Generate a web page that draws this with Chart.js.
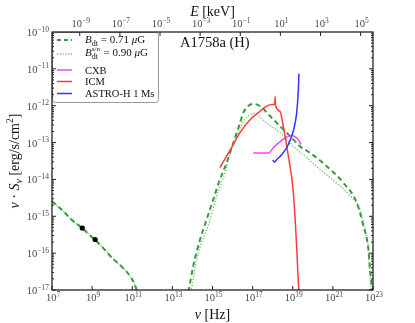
<!DOCTYPE html>
<html>
<head>
<meta charset="utf-8">
<script src="https://cdn.jsdelivr.net/npm/chart.js@4.4.1/dist/chart.umd.min.js"></script>
<style>
  html, body { margin: 0; padding: 0; background: #fff; }
</style>
</head>
<body>
<canvas id="c" width="415" height="323"></canvas>
<script>
// Valeurs, en log10 (nu en Hz, nu*S_nu en erg/s/cm2)
const radioLogNu = [7, 7.5, 8, 8.5, 9, 9.5, 10, 10.5, 10.9, 11.1, 11.25];
const radioLogS  = [-14.59, -14.83, -15.10, -15.32, -15.57, -15.83, -16.13, -16.38, -16.63, -16.82, -17.05];

const icDashLogNu = [13.8, 14.04, 14.38, 14.71, 15.04, 15.37, 15.71, 16.04, 16.37, 16.54, 16.75, 17.03, 17.37, 17.87, 18.37, 18.86, 19.36, 19.86, 20.69, 21.52, 22.19, 22.52, 22.77, 22.85, 22.94, 23.0];
const icDashLogS  = [-17.05, -16.35, -15.63, -15.08, -14.54, -14.0, -13.54, -13.01, -12.47, -12.19, -12.02, -11.95, -12.01, -12.28, -12.56, -12.82, -13.10, -13.28, -13.64, -14.09, -14.63, -15.26, -15.89, -16.43, -16.89, -17.1];

const icDotLogNu = [13.93, 14.21, 14.84, 15.21, 15.71, 15.87, 16.37, 16.6, 16.87, 17.03, 17.3, 17.7, 18.37, 19.03, 19.78, 20.36, 21.36, 22.02, 22.35, 22.6, 22.77, 22.85, 22.92];
const icDotLogS  = [-17.05, -16.17, -15.15, -14.45, -13.66, -13.29, -12.61, -12.38, -12.25, -12.20, -12.28, -12.47, -12.73, -13.10, -13.45, -13.73, -14.18, -14.54, -14.82, -15.36, -15.89, -16.62, -17.1];

const icmLogNu = [15.37, 15.7, 16.04, 16.37, 16.87, 17.37, 17.7, 18.0, 18.1, 18.12, 18.14, 18.37, 18.53, 18.7, 18.86, 19.0, 19.11, 19.2, 19.28, 19.32];
const icmLogS  = [-13.68, -13.37, -13.05, -12.73, -12.38, -12.15, -12.01, -11.97, -11.97, -11.75, -11.99, -12.16, -12.56, -13.10, -13.64, -14.18, -14.99, -15.89, -16.80, -17.1];

const cxbLogNu = [17.03, 17.79, 18.0, 18.2, 18.45, 18.62, 18.8, 18.95, 19.1, 19.25, 19.41];
const cxbLogS  = [-13.28, -13.28, -13.17, -13.05, -12.94, -12.87, -12.83, -12.81, -12.84, -12.90, -13.05];

const astroLogNu = [18.0, 18.1, 18.2, 18.45, 18.7, 18.9, 19.03, 19.15, 19.2, 19.27, 19.31];
const astroLogS  = [-13.47, -13.53, -13.46, -13.33, -13.14, -12.90, -12.68, -12.38, -12.16, -11.67, -11.13];

const obsLogNu = [8.51, 9.15];
const obsLogS  = [-15.32, -15.63];

// graduations (exposants)
const nuTickExp = [7, 9, 11, 13, 15, 17, 19, 21, 23];
const eTickExp  = [-9, -7, -5, -3, -1, 1, 3, 5];
const sTickExp  = [-17, -16, -15, -14, -13, -12, -11, -10];

const H_KEV = 4.135667e-18; // keV par Hz
const SERIF = '"Liberation Serif", "DejaVu Serif", serif';

const C_DASH = "#3a9a3a";
const C_DOT = "#6cc46c";
const C_ICM = "#ff3b3b";
const C_CXB = "#ff40ff";
const C_ASTRO = "#3535ff";

const pts = (lx, ly) => lx.map((v, i) => ({ x: 10 ** v, y: 10 ** ly[i] }));
const gap = { x: 1e12, y: null };

const ligne = (data, color, extra = {}) => ({
  data, borderColor: color, backgroundColor: color, showLine: true,
  borderWidth: 1.5, pointRadius: 0, tension: 0, cubicInterpolationMode: "monotone",
  spanGaps: false, ...extra,
});

const datasets = [
  { data: pts(obsLogNu, obsLogS), pointRadius: 2.6, pointBackgroundColor: "#000", pointBorderWidth: 0, showLine: false },
  ligne(pts(astroLogNu, astroLogS), C_ASTRO),
  ligne(pts(icmLogNu, icmLogS), C_ICM),
  ligne(pts(cxbLogNu, cxbLogS), C_CXB),
  ligne([...pts(radioLogNu, radioLogS), gap, ...pts(icDashLogNu, icDashLogS)], C_DASH, { borderWidth: 2, borderDash: [5, 3.5] }),
  ligne([...pts(radioLogNu, radioLogS), gap, ...pts(icDotLogNu, icDotLogS)], C_DOT, { borderWidth: 1.3, borderDash: [1.3, 1.7] }),
];

// texte "riche" : [texte, taille, décalage vertical, italique, sans avance]
function rich(ctx, parts, x, y, align = "left") {
  const f = (p) => `${p[3] ? "italic " : ""}${p[1]}px ${SERIF}`;
  const w = parts.map((p) => { ctx.font = f(p); return p[4] ? 0 : ctx.measureText(p[0]).width; });
  const tot = w.reduce((a, b) => a + b, 0);
  let cx = align === "center" ? x - tot / 2 : align === "right" ? x - tot : x;
  ctx.textAlign = "left";
  ctx.textBaseline = "alphabetic";
  parts.forEach((p, i) => { ctx.font = f(p); ctx.fillText(p[0], cx, y + (p[2] || 0)); cx += w[i]; });
}

const pow10 = (e) => [["10", 10.5, 0], [String(e).replace("-", "\u2212"), 7.5, -4.5]];

const decor = {
  id: "decor",
  afterDraw(chart) {
    const { ctx, chartArea: a } = chart;
    const sx = chart.scales.x, sxt = chart.scales.xTop, sy = chart.scales.y;
    ctx.save();

    // légende
    const lx = a.left + 0.5, ly = a.top + 0.5, lw = 106, lh = 70;
    ctx.beginPath();
    ctx.roundRect(lx, ly, lw, lh, 3);
    ctx.fillStyle = "#fff";
    ctx.fill();
    ctx.strokeStyle = "#9a9a9a";
    ctx.lineWidth = 1;
    ctx.stroke();
    const rows = [
      { c: C_DASH, w: 2, d: [4, 3], y: 40, ty: 43, t: [["B", 11, 0, true], ["dt", 8, 2.5], [" = 0.71 ", 11], ["\u03bc", 11, 0, true], ["G", 11]] },
      { c: C_DOT, w: 1.3, d: [1.2, 1.6], y: 54, ty: 56, t: [["B", 11, 0, true], ["s/n", 7, -5, false, true], ["dt", 8, 2.5], ["  = 0.90 ", 11], ["\u03bc", 11, 0, true], ["G", 11]] },
      { c: C_CXB, w: 1.5, d: [], y: 70, ty: 73.5, t: [["CXB", 10.5]] },
      { c: C_ICM, w: 1.5, d: [], y: 81.5, ty: 85, t: [["ICM", 10.5]] },
      { c: C_ASTRO, w: 1.5, d: [], y: 93.5, ty: 97, t: [["ASTRO-H 1 Ms", 10.5]] },
    ];
    rows.forEach((r) => {
      ctx.beginPath();
      ctx.setLineDash(r.d);
      ctx.strokeStyle = r.c;
      ctx.lineWidth = r.w;
      ctx.moveTo(57, r.y);
      ctx.lineTo(72, r.y);
      ctx.stroke();
      ctx.setLineDash([]);
      ctx.fillStyle = "#111";
      rich(ctx, r.t, 85, r.ty);
    });

    // titre dans le graphe
    ctx.fillStyle = "#111";
    rich(ctx, [["A1758a (H)", 14.5]], 180, 46.5);

    // cadre
    ctx.strokeStyle = "#111";
    ctx.lineWidth = 1.2;
    ctx.strokeRect(a.left, a.top, a.right - a.left, a.bottom - a.top);

    // graduations vers l'intérieur
    ctx.lineWidth = 1;
    ctx.strokeStyle = "#222";
    ctx.beginPath();
    nuTickExp.forEach((e) => {
      const px = sx.getPixelForValue(10 ** e);
      ctx.moveTo(px, a.bottom); ctx.lineTo(px, a.bottom - 4);
    });
    eTickExp.forEach((e) => {
      const px = sxt.getPixelForValue(10 ** e);
      ctx.moveTo(px, a.top); ctx.lineTo(px, a.top + 4);
    });
    for (let e = -17; e < -10; e++) {
      for (let k = 1; k <= 9; k++) {
        const py = sy.getPixelForValue(k * 10 ** e);
        const len = k === 1 ? 4 : 2;
        ctx.moveTo(a.left, py); ctx.lineTo(a.left + len, py);
        ctx.moveTo(a.right, py); ctx.lineTo(a.right - len, py);
      }
    }
    ctx.stroke();

    // étiquettes
    ctx.fillStyle = "#4a4a4a";
    nuTickExp.forEach((e) => rich(ctx, pow10(e), sx.getPixelForValue(10 ** e) + 1, a.bottom + 11, "center"));
    eTickExp.forEach((e) => rich(ctx, pow10(e), sxt.getPixelForValue(10 ** e) + 1, a.top - 5, "center"));
    sTickExp.forEach((e) => rich(ctx, pow10(e), a.left - 3, sy.getPixelForValue(10 ** e) + 4, "right"));

    // titres d'axes
    ctx.fillStyle = "#111";
    const cx = (a.left + a.right) / 2;
    rich(ctx, [["\u03bd", 14, 0, true], [" [Hz]", 14]], cx, 319, "center");
    rich(ctx, [["E", 14, 0, true], [" [keV]", 14]], cx, 16, "center");
    ctx.translate(19, (a.top + a.bottom) / 2);
    ctx.rotate(-Math.PI / 2);
    rich(ctx, [["\u03bd", 14, 0, true], [" \u00b7 ", 14], ["S", 14, 0, true], ["\u03bd", 10, 3, true],
               [" [erg/s/cm", 14], ["2", 9.5, -6], ["]", 14]], 0, 0, "center");
    ctx.restore();
  },
};

const axe = (extra) => ({
  type: "logarithmic",
  ticks: { display: false },
  grid: { display: false },
  border: { display: false },
  ...extra,
});

new Chart(document.getElementById("c"), {
  type: "scatter",
  data: { datasets },
  options: {
    responsive: false,
    animation: false,
    devicePixelRatio: 1,
    layout: { padding: { left: 0, right: 42, top: 0, bottom: 0 } },
    plugins: { legend: { display: false }, tooltip: { enabled: false } },
    scales: {
      x: axe({ position: "bottom", min: 1e7, max: 1e23, afterFit: (s) => { s.height = 33; } }),
      xTop: axe({ position: "top", min: 1e7 * H_KEV, max: 1e23 * H_KEV, afterFit: (s) => { s.height = 32; } }),
      y: axe({ position: "left", min: 1e-17, max: 1e-10, afterFit: (s) => { s.width = 52; } }),
    },
  },
  plugins: [decor],
});
</script>
</body>
</html>
